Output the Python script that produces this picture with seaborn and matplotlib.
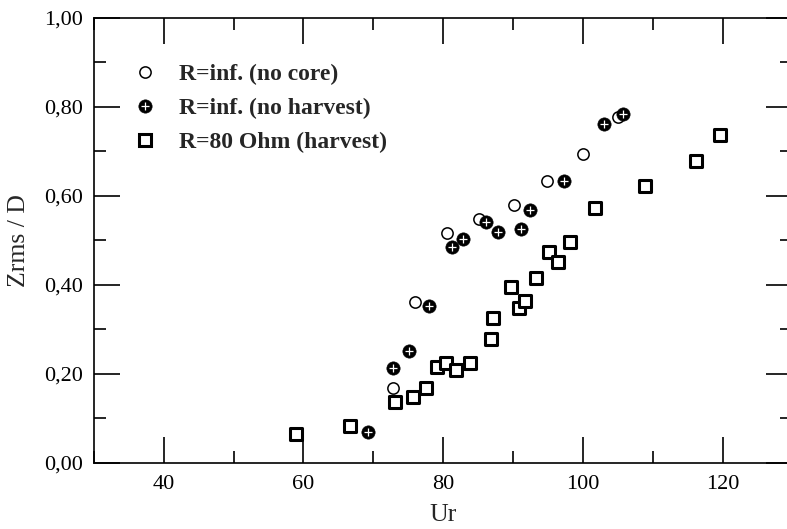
import matplotlib
matplotlib.use("Agg")
import matplotlib.pyplot as plt
from matplotlib.lines import Line2D
from matplotlib.legend_handler import HandlerTuple
from matplotlib.ticker import MultipleLocator, FuncFormatter
import seaborn as sns

# Open circles: R = inf., no core
ur_no_core = [72.8, 75.9, 80.6, 85.2, 90.2, 94.8, 100.0, 105.1]
z_no_core = [0.168, 0.362, 0.516, 0.548, 0.580, 0.634, 0.694, 0.777]

# Hatched circles: R = inf., no harvest
ur_no_harvest = [69.2, 72.8, 75.1, 78.0, 81.2, 82.9, 86.2, 87.8, 91.2, 92.4,
                 97.3, 103.0, 105.8]
z_no_harvest = [0.070, 0.214, 0.252, 0.353, 0.486, 0.503, 0.541, 0.520, 0.525,
                0.568, 0.634, 0.762, 0.784]

# Squares: R = 80 Ohm, harvest
ur_harvest = [58.9, 66.6, 73.1, 75.7, 77.5, 79.1, 80.4, 81.8, 83.9, 86.9, 87.2,
              89.7, 90.9, 91.7, 93.3, 95.2, 96.5, 98.2, 101.7, 108.9, 116.2, 119.6]
z_harvest = [0.065, 0.082, 0.138, 0.148, 0.169, 0.215, 0.225, 0.209, 0.225,
             0.279, 0.325, 0.396, 0.348, 0.365, 0.415, 0.475, 0.452, 0.496,
             0.574, 0.623, 0.679, 0.737]

labels = ["R=inf. (no core)", "R=inf. (no harvest)", "R=80 Ohm (harvest)"]

sns.set_style("ticks")
plt.rcParams["font.family"] = ["Liberation Serif", "DejaVu Serif"]

fig = plt.figure(figsize=(7.87, 5.29), dpi=100)
ax = fig.add_axes([0.1194, 0.1248, 0.8874, 0.8412])

sns.scatterplot(x=ur_no_core, y=z_no_core, ax=ax, marker="o", s=66,
                color="white", edgecolor="black", linewidth=1.1, zorder=3)
sns.scatterplot(x=ur_no_harvest, y=z_no_harvest, ax=ax, marker="o", s=92,
                color="black", edgecolor="black", linewidth=0.4, zorder=4)
sns.scatterplot(x=ur_no_harvest, y=z_no_harvest, ax=ax, marker="+", s=36,
                color="white", linewidth=0.9, zorder=5)
sns.scatterplot(x=ur_harvest, y=z_harvest, ax=ax, marker="s", s=74,
                color="white", edgecolor="black", linewidth=2.2, zorder=6)

ax.set_xlim(30, 130)
ax.set_ylim(0, 1.0)
ax.xaxis.set_major_locator(MultipleLocator(20))
ax.xaxis.set_minor_locator(MultipleLocator(10))
ax.yaxis.set_major_locator(MultipleLocator(0.2))
ax.yaxis.set_minor_locator(MultipleLocator(0.1))
ax.yaxis.set_major_formatter(FuncFormatter(lambda v, p: f"{v:.2f}".replace(".", ",")))
ax.xaxis.set_major_formatter(FuncFormatter(lambda v, p: f"{v:.0f}"))

for side in ax.spines.values():
    side.set_linewidth(1.2)
    side.set_color("black")
ax.tick_params(which="both", direction="in", top=True, right=True,
               width=1.2, color="black", labelsize=16, labelcolor="black")
ax.tick_params(which="major", length=18.5)
ax.tick_params(which="minor", length=8.6)
ax.tick_params(axis="y", which="major", pad=8)
ax.tick_params(axis="x", which="major", pad=9)

ax.set_xlabel("Ur", fontsize=18.5, labelpad=7)
ax.set_ylabel("Zrms / D", fontsize=18.5, labelpad=10)

h_core = Line2D([], [], ls="none", marker="o", ms=8.1, mfc="white",
                mec="black", mew=1.1)
h_disc = Line2D([], [], ls="none", marker="o", ms=9.6, mfc="black",
                mec="black", mew=0.4)
h_plus = Line2D([], [], ls="none", marker="+", ms=6.0, mec="white", mew=0.9)
h_sq = Line2D([], [], ls="none", marker="s", ms=8.6, mfc="white",
              mec="black", mew=2.2)
ax.legend([h_core, (h_disc, h_plus), h_sq], labels,
          handler_map={tuple: HandlerTuple(ndivide=1)},
          loc="upper left", bbox_to_anchor=(0.0424, 0.9185), frameon=False,
          prop={"size": 17, "weight": "bold"}, handlelength=1.0,
          handletextpad=0.95, labelspacing=0.52, borderaxespad=0)

fig.savefig("out.png", dpi=100)
